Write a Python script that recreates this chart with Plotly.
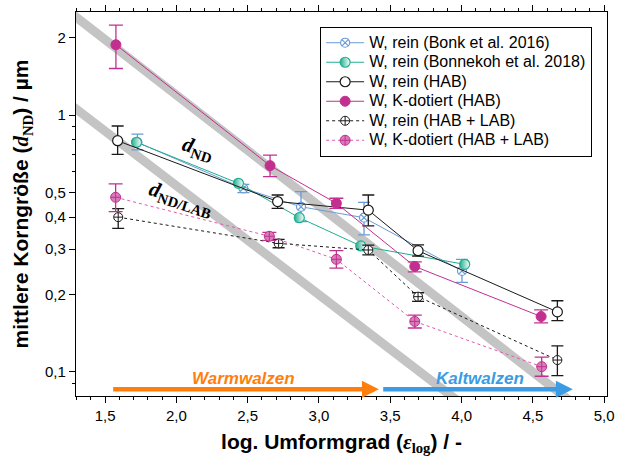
import math
import plotly.graph_objects as go

# ---------------- data ----------------
bonk_x = [1.727, 2.470, 2.874, 3.316, 4.003]
bonk_y = [0.783, 0.518, 0.439, 0.398, 0.247]
bonk_ep = [0.060, 0.019, 0.064, 0.059, 0.027]
bonk_em = [0.052, 0.020, 0.055, 0.057, 0.024]

bonnekoh_x = [1.720, 2.435, 2.862, 3.293, 4.022]
bonnekoh_y = [0.783, 0.542, 0.398, 0.309, 0.262]

hab_x = [1.588, 2.710, 3.346, 3.695, 4.672]
hab_y = [0.794, 0.460, 0.426, 0.296, 0.171]
hab_ep = [0.112, 0.028, 0.062, 0.016, 0.018]
hab_em = [0.091, 0.027, 0.056, 0.014, 0.013]

k_hab_x = [1.576, 2.657, 3.122, 3.672, 4.558]
k_hab_y = [1.878, 0.635, 0.453, 0.257, 0.164]
k_hab_ep = [0.36, 0.063, 0.021, 0.011, 0.010]
k_hab_em = [0.36, 0.060, 0.020, 0.012, 0.009]

lab_x = [1.592, 2.717, 3.346, 3.695, 4.672]
lab_y = [0.400, 0.316, 0.298, 0.196, 0.111]
lab_ep = [0.032, 0.012, 0.013, 0.007, 0.015]
lab_em = [0.038, 0.012, 0.013, 0.008, 0.0145]

k_lab_x = [1.574, 2.652, 3.122, 3.672, 4.562]
k_lab_y = [0.478, 0.337, 0.274, 0.157, 0.1046]
k_lab_ep = [0.061, 0.012, 0.022, 0.009, 0.0094]
k_lab_em = [0.058, 0.012, 0.021, 0.009, 0.0086]

# guide bands (d_ND and d_ND/LAB trends)
band_nd_x = [1.2, 4.8]
band_nd_y = [2.65, 0.074]
band_lab_x = [1.2, 4.0]
band_lab_y = [1.16, 0.075]

# process arrows
warm_x = [1.546, 3.42]
cold_x = [3.44, 4.78]
arrow_y = 0.0854
warm_label_x = 2.47
cold_label_x = 4.13
label_y = 0.0945

names = ["W, rein (Bonk et al. 2016)", "W, rein (Bonnekoh et al. 2018)", "W, rein (HAB)",
         "W, K-dotiert (HAB)", "W, rein (HAB + LAB)", "W, K-dotiert (HAB + LAB)"]

x_tickvals = [1.5, 2.0, 2.5, 3.0, 3.5, 4.0, 4.5, 5.0]
y_tickvals = [0.1, 0.2, 0.3, 0.4, 0.5, 1, 2]
y_ticktext = ["0,1", "0,2", "0,3", "0,4", "0,5", "1", "2"]
y_minorvals = [0.09, 0.6, 0.7, 0.8, 0.9]

# ---------------- style ----------------
blue = "#6b9bd6"
teal = "#1fae8e"
black = "#1a1a1a"
magenta = "#c2308f"
magenta_light = "#d67cb9"
magenta_dot = "#e05aae"
orange = "#ff7f0e"
arrow_blue = "#3b9be3"
band = "#c4c4c4"
sans = "Liberation Sans, Arial, sans-serif"
serif = "Liberation Serif, Times New Roman, serif"

def lg(name):
    return '<span style="font-size:16px">' + name + "</span>"

fig = go.Figure()

for bx, by in [(band_nd_x, band_nd_y), (band_lab_x, band_lab_y)]:
    fig.add_trace(go.Scatter(x=bx, y=by, mode="lines", line=dict(color=band, width=9),
                             showlegend=False, hoverinfo="skip"))

def err(p, m, c, w=6):
    return dict(type="data", symmetric=False, array=p, arrayminus=m, color=c, thickness=1.3, width=w)

fig.add_trace(go.Scatter(x=bonk_x, y=bonk_y, name=lg(names[0]), mode="lines+markers",
                         line=dict(color=blue, width=1),
                         marker=dict(symbol="circle-x", size=9, color="white", line=dict(color=blue, width=1.2)),
                         error_y=err(bonk_ep, bonk_em, blue)))
fig.add_trace(go.Scatter(x=bonnekoh_x, y=bonnekoh_y, name=lg(names[1]), mode="lines+markers",
                         line=dict(color=teal, width=1),
                         marker=dict(symbol="circle", size=10, color=teal,
                                     gradient=dict(type="horizontal", color="white"),
                                     line=dict(color=teal, width=1.2))))
fig.add_trace(go.Scatter(x=hab_x, y=hab_y, name=lg(names[2]), mode="lines+markers",
                         line=dict(color=black, width=1),
                         marker=dict(symbol="circle", size=10, color="white", line=dict(color=black, width=1.2)),
                         error_y=err(hab_ep, hab_em, black)))
fig.add_trace(go.Scatter(x=k_hab_x, y=k_hab_y, name=lg(names[3]), mode="lines+markers",
                         line=dict(color=magenta, width=1),
                         marker=dict(symbol="circle", size=10, color=magenta, line=dict(color=magenta, width=1)),
                         error_y=err(k_hab_ep, k_hab_em, magenta, 7)))
fig.add_trace(go.Scatter(x=lab_x, y=lab_y, name=lg(names[4]), mode="lines+markers",
                         line=dict(color=black, width=1, dash="dot"),
                         marker=dict(symbol="circle-cross", size=9, color="white", line=dict(color=black, width=1)),
                         error_y=err(lab_ep, lab_em, black)))
fig.add_trace(go.Scatter(x=k_lab_x, y=k_lab_y, name=lg(names[5]), mode="lines+markers",
                         line=dict(color=magenta_dot, width=1, dash="dot"),
                         marker=dict(symbol="circle-cross", size=10, color=magenta_light, line=dict(color=magenta, width=1)),
                         error_y=err(k_lab_ep, k_lab_em, magenta, 7)))

ly = math.log10
annotations = [
    dict(x=warm_x[1], y=ly(arrow_y), ax=warm_x[0], ay=ly(arrow_y), xref="x", yref="y", axref="x", ayref="y",
         text="", showarrow=True, arrowhead=2, arrowsize=0.75, arrowwidth=4.5, arrowcolor=orange),
    dict(x=cold_x[1], y=ly(arrow_y), ax=cold_x[0], ay=ly(arrow_y), xref="x", yref="y", axref="x", ayref="y",
         text="", showarrow=True, arrowhead=2, arrowsize=0.75, arrowwidth=4.5, arrowcolor=arrow_blue),
    dict(x=warm_label_x, y=ly(label_y), xref="x", yref="y", showarrow=False,
         text="<b><i>Warmwalzen</i></b>", font=dict(family=sans, size=17, color=orange)),
    dict(x=cold_label_x, y=ly(label_y), xref="x", yref="y", showarrow=False,
         text="<b><i>Kaltwalzen</i></b>", font=dict(family=sans, size=17, color=arrow_blue)),
    dict(x=2.15, y=ly(0.737), xref="x", yref="y", showarrow=False, textangle=18,
         text="<b><i>d</i><sub>ND</sub></b>", font=dict(family=serif, size=21, color="black")),
    dict(x=2.03, y=ly(0.471), xref="x", yref="y", showarrow=False, textangle=18,
         text="<b><i>d</i><sub>ND/LAB</sub></b>", font=dict(family=serif, size=21, color="black")),
]

serif_span = "<span style=\"font-family:'Liberation Serif', serif\"><i>{}</i><sub>{}</sub></span>"

fig.update_layout(
    width=617, height=456,
    margin=dict(l=76, r=10, t=12, b=60, autoexpand=False),
    paper_bgcolor="white", plot_bgcolor="white",
    separators=",.",
    font=dict(family=sans, size=15, color="black"),
    showlegend=True,
    legend=dict(x=0.972, y=0.961, xanchor="right", yanchor="top",
                bgcolor="white", bordercolor="black", borderwidth=1,
                font=dict(family=sans, size=12.7), itemwidth=38, tracegroupgap=0),
    annotations=annotations,
    xaxis=dict(range=[1.296, 5.02], tickvals=x_tickvals, tickformat=".1f", automargin=False,
               ticks="outside", ticklen=6, tickwidth=1.2, tickcolor="black",
               minor=dict(dtick=0.1, tick0=1.5, ticks="outside", ticklen=3, tickwidth=1, tickcolor="black"),
               showline=True, linecolor="black", linewidth=1.3, mirror="ticks",
               showgrid=False, zeroline=False,
               tickfont=dict(size=15),
               title=dict(text="<b>log. Umformgrad (" + serif_span.format("ε", "log") + ") / -</b>",
                          font=dict(size=21), standoff=11)),
    yaxis=dict(type="log", range=[-1.0947, 0.4013], tickvals=y_tickvals, ticktext=y_ticktext, automargin=False,
               ticks="outside", ticklen=6, tickwidth=1.2, tickcolor="black",
               minor=dict(tickvals=y_minorvals, ticks="outside", ticklen=3, tickwidth=1, tickcolor="black"),
               showline=True, linecolor="black", linewidth=1.3, mirror=True,
               showgrid=False, zeroline=False,
               tickfont=dict(size=15),
               title=dict(text="<b>mittlere Korngröße (" + serif_span.format("d", "ND") + ") / µm</b>",
                          font=dict(size=21), standoff=10)),
    yaxis2=dict(type="log", range=[-1.0947, 0.4013], overlaying="y", side="right", automargin=False,
                tickvals=y_tickvals, showticklabels=False,
                ticks="inside", ticklen=6, tickwidth=1.2, tickcolor="black",
                minor=dict(tickvals=y_minorvals, ticks="inside", ticklen=3, tickwidth=1, tickcolor="black"),
                showline=False, showgrid=False, zeroline=False),
)

fig.write_html("out.html", config={"displayModeBar": False},
               post_script="document.body.style.margin='0';document.body.style.padding='0';")
